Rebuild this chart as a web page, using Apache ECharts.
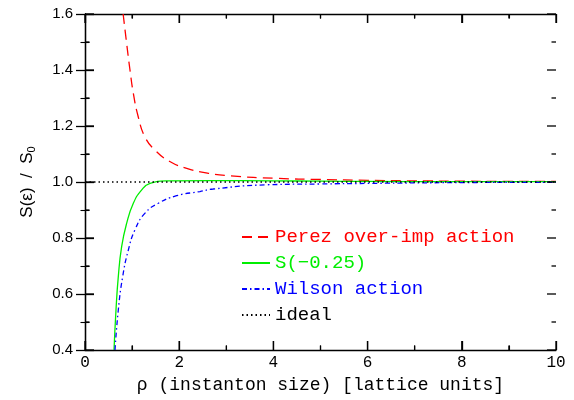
<!DOCTYPE html>
<html>
<head>
<meta charset="utf-8">
<script src="https://cdn.jsdelivr.net/npm/echarts@6/dist/echarts.min.js"></script>
<style>
  html, body { margin: 0; padding: 0; background: #fff; }
  #chart { width: 574px; height: 400px; }
</style>
</head>
<body>
<div id="chart"></div>
<script>
// values
var perezX = [0.81, 0.884, 0.955, 1.026, 1.13, 1.27, 1.486, 1.8, 2.16, 2.62, 3.08, 4.07, 5.0, 6.0, 7.0, 8.0, 9.0, 10.0];
var perezY = [1.6, 1.495, 1.4, 1.317, 1.233, 1.162, 1.114, 1.073, 1.049, 1.031, 1.022, 1.013, 1.009, 1.006, 1.004, 1.003, 1.002, 1.002];

var sX = [0.616, 0.658, 0.707, 0.778, 0.884, 1.026, 1.2, 1.38, 1.73, 2.65, 4.0, 5.0, 6.0, 8.0, 10.0];
var sY = [0.4, 0.543, 0.662, 0.769, 0.852, 0.924, 0.971, 0.995, 1.004, 1.005, 1.004, 1.003, 1.002, 1.001, 1.001];

var wilsonX = [0.637, 0.707, 0.8, 0.92, 1.06, 1.27, 1.556, 1.945, 2.44, 2.72, 3.86, 5.0, 6.0, 8.0, 10.0];
var wilsonY = [0.4, 0.543, 0.662, 0.757, 0.829, 0.888, 0.924, 0.951, 0.966, 0.975, 0.99, 0.993, 0.995, 0.998, 0.999];

var idealX = [0, 10];
var idealY = [1, 1];

// tick values (major ones every other entry)
var xTicks = [0, 1, 2, 3, 4, 5, 6, 7, 8, 9, 10];
var yTicks = [0.4, 0.5, 0.6, 0.7, 0.8, 0.9, 1.0, 1.1, 1.2, 1.3, 1.4, 1.5, 1.6];

var names = ['Perez over-imp action', 'S(\u22120.25)', 'Wilson action', 'ideal'];
var colors = ['#ff0000', '#00ee00', '#0000ff', '#000000'];

function pairs(xs, ys) {
    var out = [];
    for (var i = 0; i < xs.length; i++) {
        out.push([xs[i], ys[i]]);
    }
    return out;
}

function frame(extra) {
    var o = {
        type: 'value',
        axisLine: { show: true, lineStyle: { color: '#000', width: 1.3 } },
        axisTick: { show: true, inside: true, length: 9, lineStyle: { color: '#000', width: 1.3 } },
        minorTick: { show: true, splitNumber: 2, length: 4.5, lineStyle: { color: '#000', width: 1.1 } },
        splitLine: { show: false }
    };
    return Object.assign(o, extra);
}

var chart = echarts.init(document.getElementById('chart'));

chart.setOption({
    animation: false,
    grid: { left: 85, right: 18, top: 14, bottom: 50, outerBoundsMode: 'none' },
    legend: {
        orient: 'vertical',
        left: 236,
        top: 222,
        icon: 'inherit',
        itemStyle: { opacity: 0 },
        itemWidth: 28,
        itemHeight: 14,
        itemGap: 6,
        textStyle: { fontFamily: 'Liberation Mono', fontSize: 19, lineHeight: 20 },
        data: names.map(function (n, i) {
            return { name: n, textStyle: { color: colors[i] } };
        })
    },
    xAxis: [frame({
        min: 0, max: 10, interval: 2,
        name: '\u03c1 (instanton size) [lattice units]',
        nameLocation: 'middle', nameGap: 24,
        nameTextStyle: { fontFamily: 'Liberation Mono', fontSize: 18, color: '#000' },
        axisLabel: { fontFamily: 'Liberation Mono', fontSize: 16, color: '#000', margin: 5 }
    }), frame({
        min: 0, max: 10, interval: 2, position: 'top',
        axisLabel: { show: false }
    })],
    yAxis: [frame({
        min: 0.4, max: 1.6, interval: 0.2,
        name: 'S(\u03b5)  /  S{sub|0}',
        nameLocation: 'middle', nameGap: 48, nameRotate: 90,
        nameTextStyle: {
            fontFamily: 'Liberation Sans', fontSize: 17, color: '#000',
            rich: { sub: { fontFamily: 'Liberation Sans', fontSize: 11, padding: [9, 0, 0, 0] } }
        },
        axisLabel: {
            fontFamily: 'Liberation Sans', fontSize: 15, color: '#000', margin: 12,
            formatter: function (v) { return v.toFixed(1); }
        }
    }), frame({
        min: 0.4, max: 1.6, interval: 0.2, position: 'right',
        axisLabel: { show: false }
    })],
    series: [{
        name: names[0], type: 'line', symbol: 'none', smooth: 0.5,
        data: pairs(perezX, perezY), color: colors[0],
        lineStyle: { color: colors[0], width: 1.3, type: [10, 6] }
    }, {
        name: names[1], type: 'line', symbol: 'none', smooth: 0.5,
        data: pairs(sX, sY), color: colors[1],
        lineStyle: { color: colors[1], width: 1.3 }
    }, {
        name: names[2], type: 'line', symbol: 'none', smooth: 0.5,
        data: pairs(wilsonX, wilsonY), color: colors[2],
        lineStyle: { color: colors[2], width: 1.3, type: [5, 3, 1.5, 3] }
    }, {
        name: names[3], type: 'line', symbol: 'none',
        data: pairs(idealX, idealY), color: colors[3],
        lineStyle: { color: colors[3], width: 1.3, type: [1.5, 3] }
    }]
});

// tick marks on all four sides, placed through the axes' own scales
var xLeft = chart.convertToPixel({ xAxisIndex: 0 }, 0);
var xRight = chart.convertToPixel({ xAxisIndex: 0 }, 10);
var yBottom = chart.convertToPixel({ yAxisIndex: 0 }, 0.4);
var yTop = chart.convertToPixel({ yAxisIndex: 0 }, 1.6);
var tickLines = [];

function addTick(x1, y1, x2, y2) {
    tickLines.push({
        type: 'line', silent: true, z: 100,
        shape: { x1: x1, y1: y1, x2: x2, y2: y2 },
        style: { stroke: '#000', lineWidth: 1.3 }
    });
}

xTicks.forEach(function (v, i) {
    var px = chart.convertToPixel({ xAxisIndex: 0 }, v);
    var len = (i % 2 === 0) ? 9 : 4.5;
    addTick(px, yBottom, px, yBottom - len);
    addTick(px, yTop, px, yTop + len);
});
yTicks.forEach(function (v, i) {
    var py = chart.convertToPixel({ yAxisIndex: 0 }, v);
    var len = (i % 2 === 0) ? 9 : 4.5;
    addTick(xLeft, py, xLeft + len, py);
    addTick(xRight, py, xRight - len, py);
});

chart.setOption({ graphic: { elements: tickLines } });
</script>
</body>
</html>
